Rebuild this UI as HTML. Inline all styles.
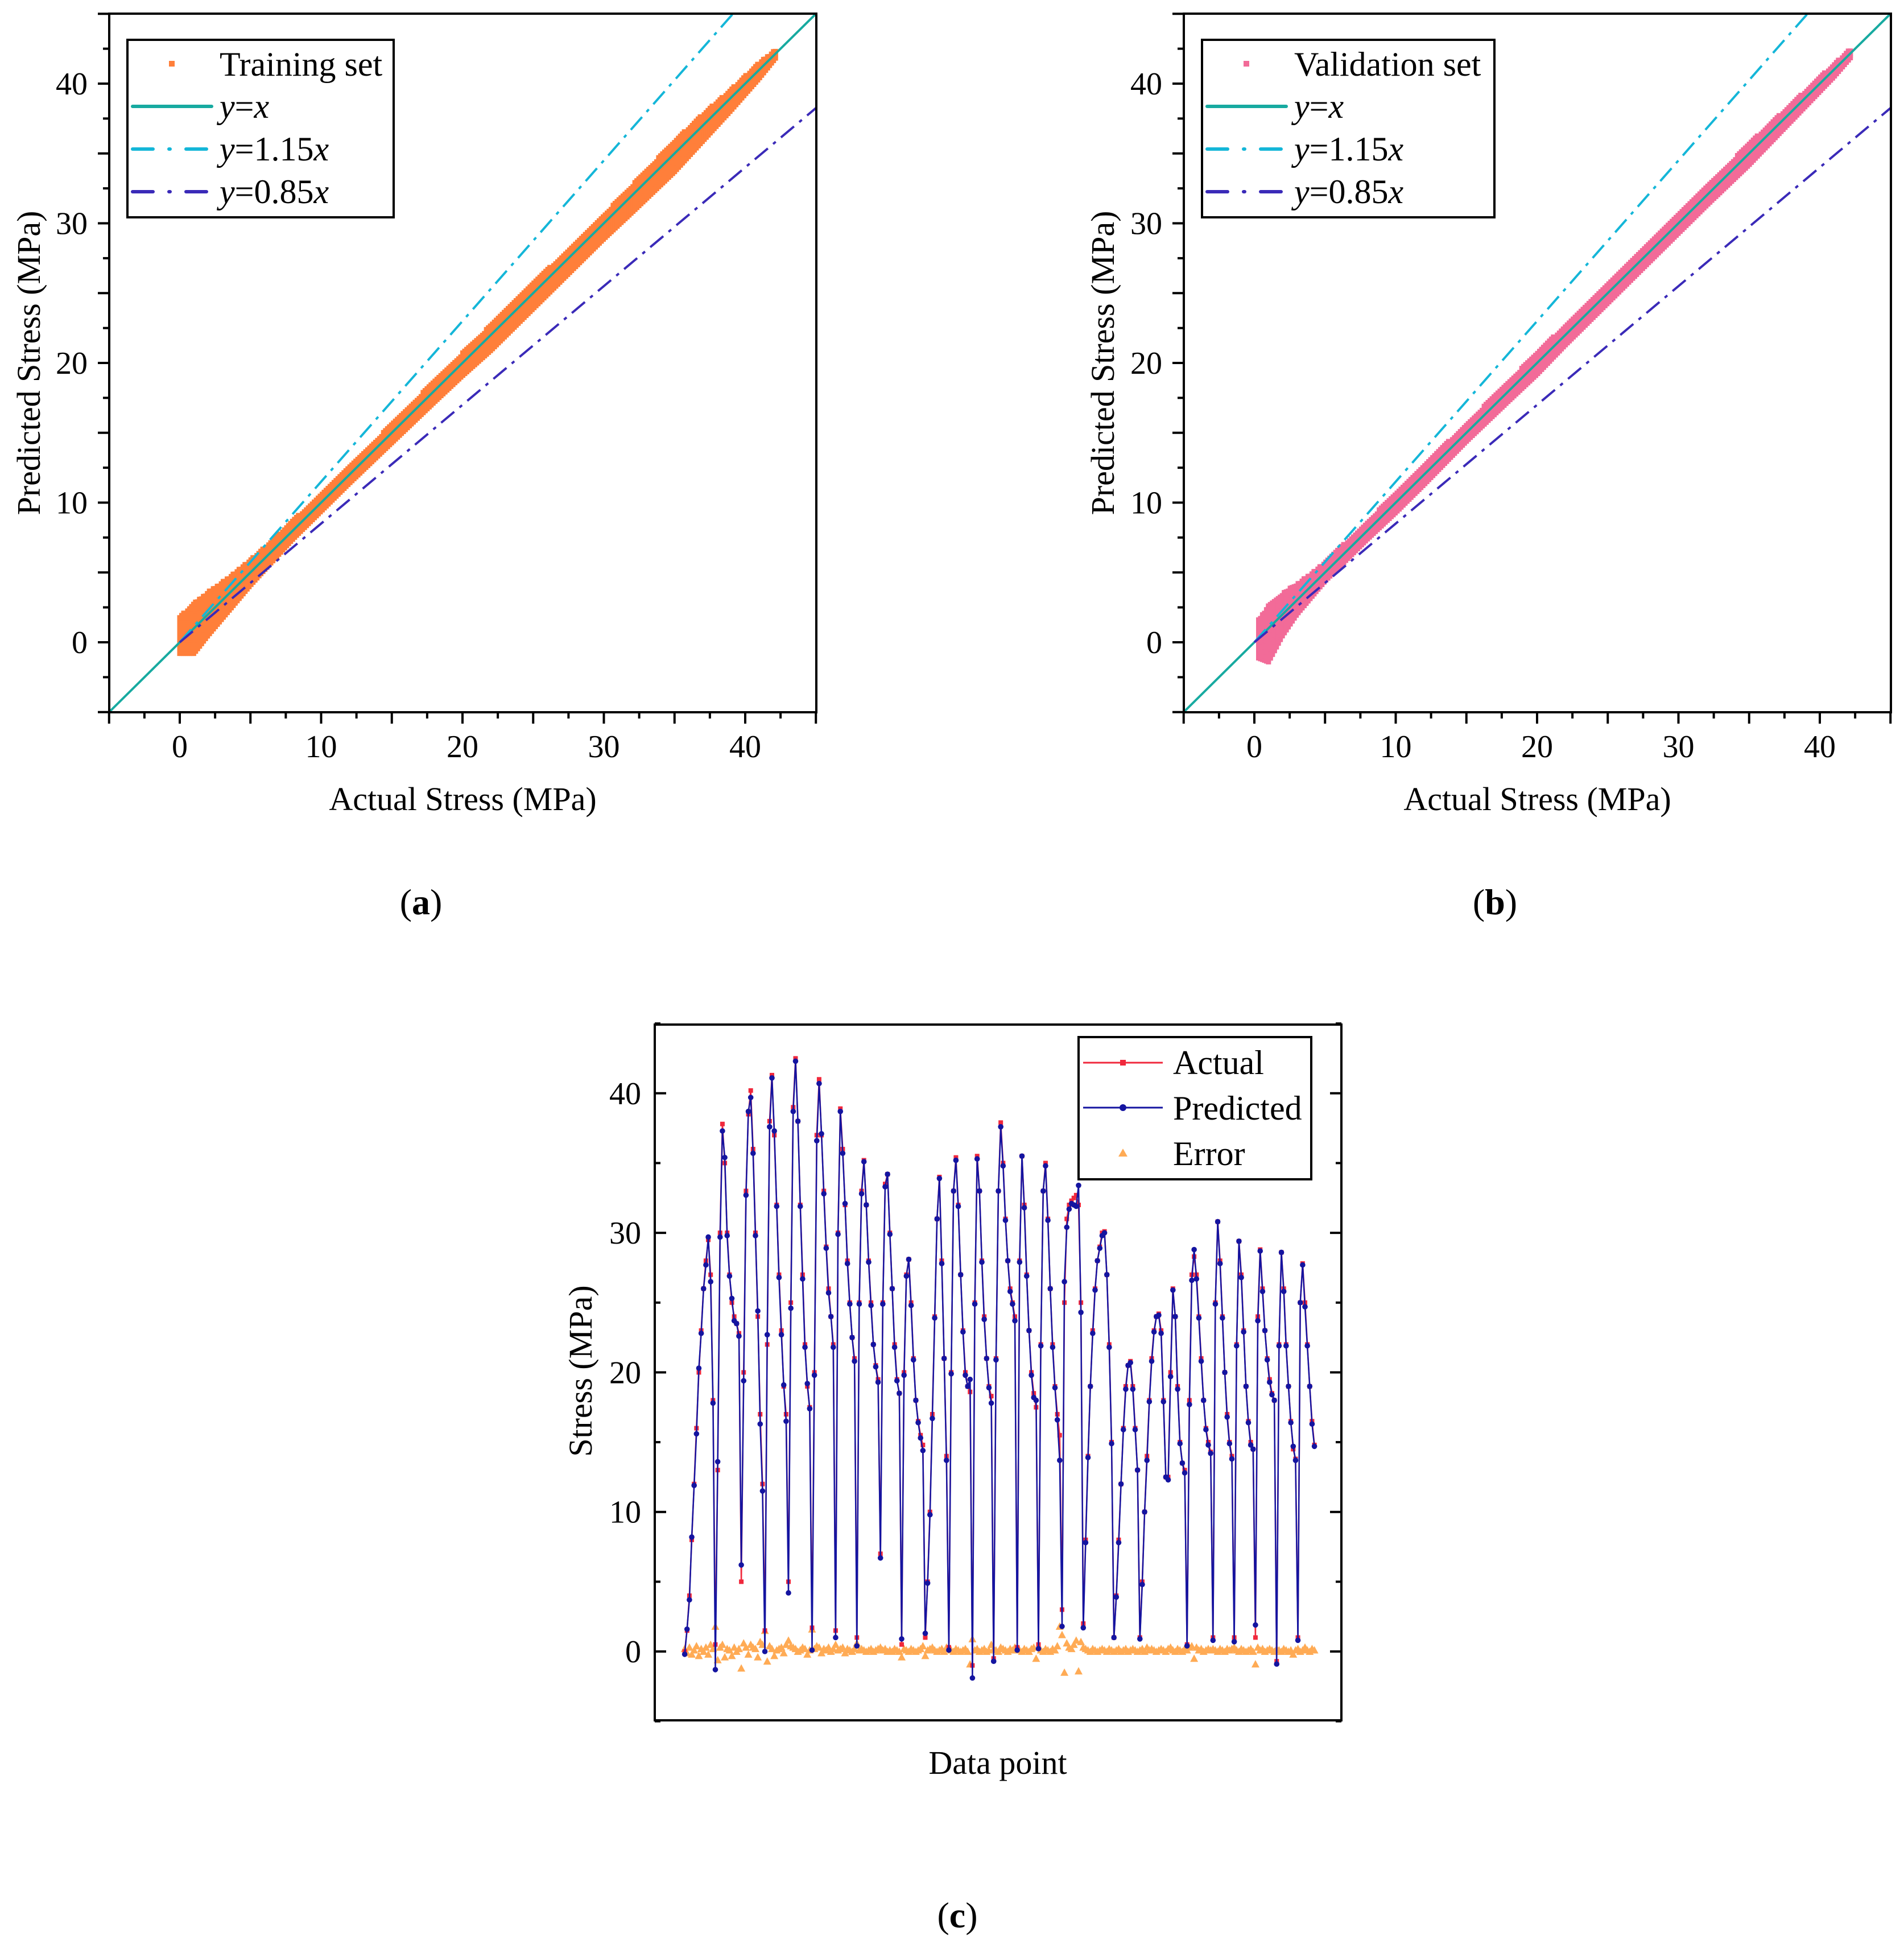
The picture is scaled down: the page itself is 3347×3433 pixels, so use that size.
<!DOCTYPE html>
<html><head><meta charset="utf-8"><style>
html,body{margin:0;padding:0;background:#fff}
svg{display:block}
text{font-family:"Liberation Serif",serif;fill:#000}
</style></head><body>
<svg id="fig" width="3347" height="3433" viewBox="0 0 3347 3433" xmlns="http://www.w3.org/2000/svg">
<defs>
<clipPath id="clipA"><rect x="192" y="24" width="1243" height="1228"/></clipPath>
<clipPath id="clipB"><rect x="2081" y="24" width="1243" height="1228"/></clipPath>
<clipPath id="clipC"><rect x="1151" y="1801" width="1207" height="1223"/></clipPath>
</defs>
<g id="panelA"></g>
<g id="panelB"></g>
<g id="panelC"></g>
</svg>
<script>
// ---------- data: panels a/b (band of predicted - actual offsets) ----------
const bandX      = [0, 1, 2, 3, 4, 5, 6, 8, 10, 12, 15, 18, 20, 22, 25, 28, 30, 32, 35, 37, 39, 41, 42.2];
const trainHi    = [1.8, 1.8, 1.6, 1.3, 1.1, 0.9, 0.8, 0.7, 0.6, 0.6, 0.6, 0.7, 0.7, 0.7, 0.7, 0.6, 0.6, 0.7, 0.9, 0.8, 0.6, 0.5, 0.3];
const trainLo    = [-0.8, -1.8, -1.5, -1.3, -1.1, -0.9, -0.8, -0.6, -0.6, -0.6, -0.7, -0.8, -0.9, -1.1, -1.1, -1.1, -1.1, -1.2, -1.3, -1.1, -0.9, -0.6, -0.3];
const valHi      = [1.2, 1.6, 1.5, 1.2, 0.9, 0.7, 0.7, 0.6, 0.7, 0.7, 0.6, 0.7, 0.7, 0.7, 0.6, 0.6, 0.6, 0.6, 0.7, 0.6, 0.5, 0.4, 0.3];
const valLo      = [-1.0, -2.4, -1.5, -1.0, -0.8, -0.6, -0.6, -0.6, -0.7, -0.7, -0.6, -0.7, -0.8, -0.7, -0.7, -0.7, -0.7, -0.7, -0.8, -0.7, -0.6, -0.5, -0.3];
const ticksAB    = [0, 10, 20, 30, 40];
const tickLabelsAB = ["0", "10", "20", "30", "40"];
const slopes     = [1, 1.15, 0.85];

// ---------- data: panel c ----------
const actual = [0,1.5,4,8,12,16,20,23,26,28,29.5,27,18,0.5,13,30,37.8,35,30,27,25,24,23.5,22.8,
5,20,33,38.5,40.2,36,30,24,17,12,1.5,22,38,41.3,37,32,27,23,19,17,5,25,39,42.5,38,32,27,22,19,17.5,
1.7,20,37,41,37,33,29,26,24,22,1.5,30,38.9,36,32,28,25,22.5,21,1,25,33,35.2,32,28,25,22,20.5,19.5,
7,25,33.5,34.2,30,26,22,19.5,18.5,0.5,20,27,28.1,25,21,18,16.5,15.5,14.8,1,5,10,17,24,31,34,28,21,14,
0.3,20,33,35.4,32,27,23,20,19,18.6,-1,25,35.5,33,28,24,21,19,18.3,-0.5,21,33,37.9,35,31,28,26,25,24,
0.3,28,35.5,32,27,23,20,18.5,17.5,0.5,22,33,35,31,26,22,19,17,15.5,3,25,31,32,32.3,32.5,32.7,32,25,
2,8,14,19,23,26,28,29,30,30.1,27,22,15,1,4,8,12,16,19,20.5,20.8,19,16,13,1,5,10,14,18,21,23,24,24.2,
23,18,12.5,12.5,20,26,24,19,15,13.5,13,0.5,18,27,28.3,27,24,21,18,16,15,14.3,1,25,30.8,28,24,20,17,15,14,
1,22,29.4,27,23,19,16.5,15,14.5,1,24,28.8,26,23,21,19.5,18.5,18,-0.7,22,28.6,26,22,19,16.5,14.5,13.8,
1,25,27.8,25,22,19,16.5,14.8];
const errorVals = [0.2,-0.1,0.3,-0.2,0.1,0.4,-0.3,0.2,0,0.3,-0.2,0.5,0.2,1.8,-0.6,0.3,0.5,-0.4,0.2,0.1,-0.3,0.3,0,0.2,
-1.2,0.6,0.3,-0.2,0.5,0.3,0.2,-0.4,0.7,0.5,1.5,-0.7,0.4,0.2,-0.3,0.1,0.2,0.3,-0.1,0.5,0.8,0.4,0.3,0.2,0,0.1,0.3,0.2,-0.2,0.1,
1.6,0.2,0.4,0.3,-0.1,0.2,0.1,0.3,0,0.2,0.5,0.1,0.2,0.3,-0.1,0.2,0.1,0,0.2,0.6,0.1,0.2,0.1,0,0.1,0.2,0,0.1,0.2,
0.3,0.1,0.2,0,0.1,0,0.2,0.1,0,-0.4,0.2,0.1,0,0.2,0.1,0,0.1,0.2,0.4,-0.3,0.1,0.2,0.3,0.1,0,0.1,0.2,0,0.3,
0.2,0.1,0,0.2,0.1,0,0.1,0.2,0,-0.9,0.9,0.1,0.2,0,0.1,0.2,0,0.1,0.5,0.2,0.1,0,0.3,0.2,0.1,0,0.2,0.1,
0.3,0.2,0.1,0,0.2,0.1,0,0.2,0.3,-0.5,0.3,0.1,0,0.2,0.1,0,0.2,0.1,0.4,1.8,1.2,-1.5,0.6,0.3,0.2,0.5,0.8,
-1.4,0.7,0.3,0.2,0.1,0,0.2,0.1,0,0.1,0.2,0.1,0,0.2,0.1,0,0.1,0.2,0,0.1,0.2,0,0.1,0.2,0.1,0,0.1,0.2,
0,0.3,0.1,0.2,0.1,0,0.1,0.2,0.1,0,0.2,0.3,0.1,0,0.2,0.1,0,0.2,0.1,0.3,0.4,-0.5,0.3,0.1,0.2,0,0.1,0.2,0.1,
0.2,0.1,0,0.2,0.1,0,0.2,0.1,0.2,0.3,0.1,0,0.2,0.1,0,0.1,0.2,0,-0.9,0.3,0.1,0.2,0,0.1,0.2,0.1,0,
0.2,0.1,0,0.2,0.1,0,0.1,-0.2,0.1,0.2,0,0.1,0.3,0.1,0,0.2,0.1,-0.6,0.2,0.1,0,0.1,-0.1,-0.2];
const ticksC = [0, 10, 20, 30, 40];
const tickLabelsC = ["0", "10", "20", "30", "40"];

const NS = "http://www.w3.org/2000/svg";
function mk(parent, tag, attrs, txt) {
  const e = document.createElementNS(NS, tag);
  for (const k in attrs) e.setAttribute(k, attrs[k]);
  if (txt !== undefined) e.textContent = txt;
  parent.appendChild(e);
  return e;
}
function interp(xs, ys, x) {
  if (x <= xs[0]) return ys[0];
  for (let i = 1; i < xs.length; i++) if (x <= xs[i]) { const t = (x - xs[i-1]) / (xs[i] - xs[i-1]); return ys[i-1] + t * (ys[i] - ys[i-1]); }
  return ys[ys.length - 1];
}

function scatterPanel(gid, x0, axLeft, clip, color, hi, lo, legendLabel, legendRight, panelLabel, panelLabelX, yTitleX) {
  const g = document.getElementById(gid);
  const X = v => x0 + 24.85 * v;
  const Y = v => 1129 - 24.55 * v;
  const left = axLeft, right = axLeft + 1243, top = 24, bottom = 1252;
  const pts = mk(g, "g", {"clip-path": "url(#" + clip + ")"});
  
  
  const xStart = bandX[0] + (color === "#f26b98" ? 0.3 : 0);
  for (let x = xStart; x <= bandX[bandX.length - 1]; x += 0.14) {
    const h = interp(bandX, hi, x), l = interp(bandX, lo, x);
    for (let d = l; d <= h; d += 0.16) {
      const r = mk(pts, "rect", {x: (X(x) - 4.5).toFixed(1), y: (Y(x + d) - 4.5).toFixed(1), width: 9, height: 9, fill: color});
      
      
    }
  }
  const lineColors = ["#17aaa0", "#14b6d8", "#3a2ab8"];
  const dashes = ["none", "30 12 6 12", "30 12 6 12"];
  const names = ["line-y-equals-x", "line-y-1-15x", "line-y-0-85x"];
  slopes.forEach((s, i) => {
    const xa = i === 0 ? -5 : 0;
    const xb = Math.min(45, 45 / s);
    const ln = mk(g, "line", {x1: X(xa), y1: Y(xa * s), x2: X(xb), y2: Y(xb * s), stroke: lineColors[i], "stroke-width": 4, "stroke-dasharray": dashes[i], "clip-path": "url(#" + clip + ")"});
    
    
  });
  const fr = mk(g, "rect", {x: left, y: top, width: right - left, height: bottom - top, fill: "none", stroke: "#000", "stroke-width": 4});
  
  
  for (let v = -5; v <= 45; v += 2.5) {
    const major = Math.abs(v % 5) < 1e-6;
    const len = major ? 20 : 11;
    const tx = mk(g, "line", {x1: X(v), y1: bottom, x2: X(v), y2: bottom + len, stroke: "#000", "stroke-width": 4});
    
    
    const ty = mk(g, "line", {x1: left, y1: Y(v), x2: left - len, y2: Y(v), stroke: "#000", "stroke-width": 4});
    
    
  }
  ticksAB.forEach((v, i) => {
    const tl = mk(g, "text", {x: X(v), y: 1331, "font-size": 56, "text-anchor": "middle"}, tickLabelsAB[i]);
    
    
    const yl = mk(g, "text", {x: left - 38, y: Y(v) + 19, "font-size": 56, "text-anchor": "end"}, tickLabelsAB[i]);
    
    
  });
  const xt = mk(g, "text", {x: (left + right) / 2, y: 1424, "font-size": 58, "text-anchor": "middle"}, "Actual Stress (MPa)");
  
  
  const yt = mk(g, "text", {x: 0, y: 0, "font-size": 58, "text-anchor": "middle", transform: "translate(" + yTitleX + ",638) rotate(-90)"}, "Predicted Stress (MPa)");
  
  
  const lg = mk(g, "g", {});
  
  
  const ll = left + 32;
  mk(lg, "rect", {x: ll, y: 70, width: legendRight - ll, height: 312, fill: "#fff", stroke: "#000", "stroke-width": 4});
  mk(lg, "rect", {x: ll + 73, y: 107, width: 10, height: 10, fill: color});
  const tx0 = ll + 162;
  mk(lg, "text", {x: tx0, y: 133, "font-size": 60}, legendLabel);
  const ys = [207, 282, 357];
  slopes.forEach((s, i) => {
    mk(lg, "line", {x1: ll + 9, y1: ys[i] - 20, x2: ll + 148, y2: ys[i] - 20, stroke: lineColors[i], "stroke-width": 6, "stroke-linecap": "round", "stroke-dasharray": i === 0 ? "none" : "36 28 2 28"});
    const t = mk(lg, "text", {x: tx0, y: ys[i], "font-size": 60});
    mk(t, "tspan", {"font-style": "italic"}, "y");
    if (i === 0) { mk(t, "tspan", {}, "="); mk(t, "tspan", {"font-style": "italic"}, "x"); }
    else { mk(t, "tspan", {}, i === 1 ? "=1.15" : "=0.85"); mk(t, "tspan", {"font-style": "italic"}, "x"); }
  });
  const pl = mk(g, "text", {x: panelLabelX, y: 1607, "font-size": 64, "text-anchor": "middle"});
  mk(pl, "tspan", {}, "(");
  mk(pl, "tspan", {"font-weight": "bold"}, panelLabel);
  mk(pl, "tspan", {}, ")");
  
  
}

scatterPanel("panelA", 316, 192, "clipA", "#ff7f3a", trainHi, trainLo, "Training set", 692, "a", 740, 70);
scatterPanel("panelB", 2205, 2081, "clipB", "#f26b98", valHi, valLo, "Validation set", 2627, "b", 2628, 1958);

// ---------- panel c ----------
(function () {
  const g = document.getElementById("panelC");
  const left = 1151, right = 2358, top = 1801, bottom = 3024;
  const Xi = i => 1203.6 + 4.146 * i;
  const Yc = v => 2903 - 24.53 * v;
  const predicted = actual.map((a, i) => a - (errorVals[i] ?? 0));
  const body = mk(g, "g", {"clip-path": "url(#clipC)"});
  
  
  errorVals.slice(0, actual.length).forEach((e, i) => {
    const x = Xi(i), y = Yc(e);
    const t = mk(body, "polygon", {points: `${x},${y-7} ${x-7},${y+6} ${x+7},${y+6}`, fill: "#ffab55"});
    
    
  });
  const pa = actual.map((v, i) => Xi(i).toFixed(1) + "," + Yc(v).toFixed(1)).join(" ");
  const la = mk(body, "polyline", {points: pa, fill: "none", stroke: "#f0283c", "stroke-width": 2.5});
  
  
  actual.forEach((v, i) => {
    const r = mk(body, "rect", {x: Xi(i) - 4, y: Yc(v) - 4, width: 8, height: 8, fill: "#f0283c"});
    
    
  });
  const pp = predicted.map((v, i) => Xi(i).toFixed(1) + "," + Yc(v).toFixed(1)).join(" ");
  const lp = mk(body, "polyline", {points: pp, fill: "none", stroke: "#1414a0", "stroke-width": 2.5});
  
  
  predicted.forEach((v, i) => {
    const c = mk(body, "circle", {cx: Xi(i), cy: Yc(v), r: 4.8, fill: "#1414a0"});
    
    
  });
  const fr = mk(g, "rect", {x: left, y: top, width: right - left, height: bottom - top, fill: "none", stroke: "#000", "stroke-width": 4});
  
  
  for (let v = -5; v <= 45; v += 5) {
    const major = v % 10 === 0;
    const len = major ? 20 : 10;
    const t1 = mk(g, "line", {x1: left, y1: Yc(v), x2: left + len, y2: Yc(v), stroke: "#000", "stroke-width": 4});
    
    
    const t2 = mk(g, "line", {x1: right, y1: Yc(v), x2: right - len, y2: Yc(v), stroke: "#000", "stroke-width": 4});
    
    
  }
  ticksC.forEach((v, i) => {
    const t = mk(g, "text", {x: left - 24, y: Yc(v) + 19, "font-size": 56, "text-anchor": "end"}, tickLabelsC[i]);
    
    
  });
  const xt = mk(g, "text", {x: 1754, y: 3118, "font-size": 58, "text-anchor": "middle"}, "Data point");
  
  
  const yt = mk(g, "text", {x: 0, y: 0, "font-size": 58, "text-anchor": "middle", transform: "translate(1040,2410) rotate(-90)"}, "Stress (MPa)");
  
  
  const lg = mk(g, "g", {});
  
  
  mk(lg, "rect", {x: 1896, y: 1823, width: 409, height: 250, fill: "#fff", stroke: "#000", "stroke-width": 4});
  mk(lg, "line", {x1: 1904, y1: 1868, x2: 2044, y2: 1868, stroke: "#f0283c", "stroke-width": 3});
  mk(lg, "rect", {x: 1969, y: 1863, width: 10, height: 10, fill: "#f0283c"});
  mk(lg, "text", {x: 2062, y: 1888, "font-size": 60}, "Actual");
  mk(lg, "line", {x1: 1904, y1: 1947, x2: 2044, y2: 1947, stroke: "#1414a0", "stroke-width": 3});
  mk(lg, "circle", {cx: 1974, cy: 1947, r: 6, fill: "#1414a0"});
  mk(lg, "text", {x: 2062, y: 1968, "font-size": 60}, "Predicted");
  mk(lg, "polygon", {points: "1974,2019 1966,2033 1982,2033", fill: "#ffab55"});
  mk(lg, "text", {x: 2062, y: 2048, "font-size": 60}, "Error");
  const pl = mk(g, "text", {x: 1683, y: 3388, "font-size": 64, "text-anchor": "middle"});
  mk(pl, "tspan", {}, "(");
  mk(pl, "tspan", {"font-weight": "bold"}, "c");
  mk(pl, "tspan", {}, ")");
  
  
})();
</script>
</body></html>
